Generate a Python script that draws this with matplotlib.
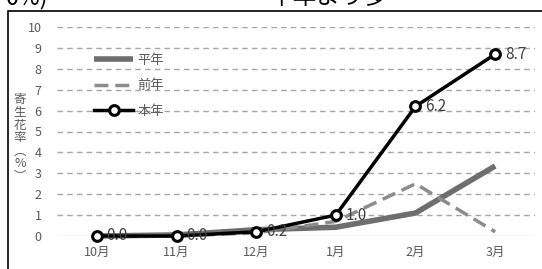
import numpy as np
import matplotlib
matplotlib.use("Agg")
import matplotlib.pyplot as plt
from matplotlib.patches import Rectangle

plt.rcParams['font.family'] = ['Noto Sans CJK JP', 'DejaVu Sans']

months = ['10月', '11月', '12月', '1月', '2月', '3月']
heinen = [0.0, 0.05, 0.3, 0.42, 1.1, 3.35]
zennen = [0.0, 0.0, 0.15, 0.7, 2.5, 0.2]
honnen = [0.0, 0.0, 0.2, 1.0, 6.2, 8.7]
honnen_labels = ['0.0', '0.0', '0.2', '1.0', '6.2', '8.7']

fig = plt.figure(figsize=(5.42, 2.69), dpi=100)
ax = fig.add_axes([57 / 542, 33 / 269, 478 / 542, 209 / 269])

x = np.arange(len(months))

# grid
for v in range(1, 11):
    ax.axhline(v, color='#a6a6a6', lw=1, ls=(0, (4, 3)), zorder=1)
ax.axhline(0, color='#d9d9d9', lw=1, zorder=1)

ax.plot(x, heinen, color='#6e6e6e', lw=4, solid_capstyle='butt', label='平年', zorder=3, clip_on=False)
ax.plot(x, zennen, color='#8c8c8c', lw=2.5, ls=(0, (4, 2)), label='前年', zorder=3, clip_on=False)
ax.plot(x, honnen, color='black', lw=2.5, marker='o', ms=7, mfc='white', mec='black', mew=2.2,
        label='本年', zorder=4, clip_on=False)

for xi, yi, t in zip(x, honnen, honnen_labels):
    ax.annotate(t, (xi, yi), xytext=(7, 0), textcoords='offset points', va='center', ha='left',
                fontsize=11, color='#404040', zorder=5)

ax.set_xlim(-0.5, len(months) - 0.5)
ax.set_ylim(0, 10)
ax.set_yticks(range(0, 11))
ax.set_xticks(x)
ax.set_xticklabels(months)
ax.tick_params(axis='both', length=0, labelsize=9, labelcolor='#595959')
ax.tick_params(axis='y', pad=11)
ax.tick_params(axis='x', pad=7)
for s in ax.spines.values():
    s.set_visible(False)

leg = ax.legend(loc='upper left', bbox_to_anchor=(82 / 542, 1 - 42 / 269), bbox_transform=fig.transFigure,
                frameon=False, fontsize=9.5, labelcolor='#595959', handlelength=3.0, handletextpad=0.3,
                labelspacing=0.95)

fig.text(20 / 542, 131 / 269, '\n'.join(['寄', '生', '花', '率', '︵', '%', '︶']), ha='center', va='center',
         fontsize=9, color='#595959', linespacing=0.98)

# frame of the embedded chart
fig.add_artist(Rectangle((8 / 542, -0.1), 1.2, 1 - 11.5 / 269 + 0.1, transform=fig.transFigure,
                         fill=False, ec='black', lw=1.2))

# cut-off text from the page above
fig.text(6 / 542, 1 - 9 / 269, '0%)', fontsize=17, va='bottom', ha='left', color='black')
fig.text(270 / 542, 1 - 9 / 269, '平年より多', fontsize=17, va='bottom', ha='left', color='black')

fig.savefig('out.png', dpi=100)
